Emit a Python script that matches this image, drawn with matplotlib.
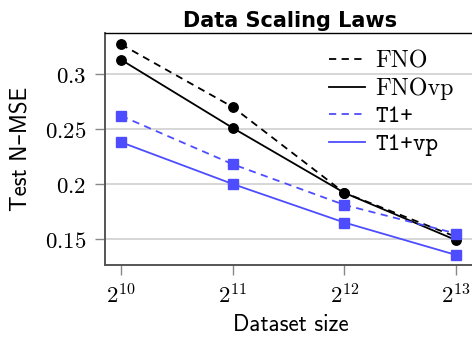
import os
import matplotlib
matplotlib.use("Agg")
import matplotlib.pyplot as plt
from matplotlib import font_manager as fm

plt.rcParams['mathtext.fontset'] = 'cm'
ttf = os.path.join(matplotlib.get_data_path(), 'fonts', 'ttf')
for f in ['cmr10.ttf', 'cmtt10.ttf', 'cmss10.ttf']:
    fm.fontManager.addfont(os.path.join(ttf, f))

dataset_sizes = [2**10, 2**11, 2**12, 2**13]
xtick_labels = [r'$2^{10}$', r'$2^{11}$', r'$2^{12}$', r'$2^{13}$']
fno = [0.327, 0.270, 0.192, 0.152]
fno_vp = [0.313, 0.251, 0.192, 0.149]
t1p = [0.262, 0.218, 0.181, 0.155]
t1p_vp = [0.238, 0.200, 0.165, 0.1355]
yticks = [0.15, 0.2, 0.25, 0.3]
ytick_labels = [r'$0.15$', r'$0.2$', r'$0.25$', r'$0.3$']
labels = ['FNO', 'FNOvp', 'T1+', 'T1+vp']
label_fonts = ['cmr10', 'cmr10', 'cmtt10', 'cmtt10']

blue = '#4d4dff'
dash = (0, (4, 3))

fig = plt.figure(figsize=(4.72, 3.39), dpi=100)
L, R, B, T = 105, 476, 265, 33
ax = fig.add_axes([L/472, 1 - B/339, (R-L)/472, (B-T)/339])

lw = 1.3
ax.plot(dataset_sizes, fno, ls=dash, color='black', lw=lw, marker='o', ms=6.8, label=labels[0], zorder=3)
ax.plot(dataset_sizes, fno_vp, ls='-', color='black', lw=lw, marker='o', ms=6.8, label=labels[1], zorder=3)
ax.plot(dataset_sizes, t1p, ls=dash, color=blue, lw=lw, marker='s', ms=6.8, label=labels[2], zorder=3)
ax.plot(dataset_sizes, t1p_vp, ls='-', color=blue, lw=lw, marker='s', ms=6.8, label=labels[3], zorder=3)

ax.set_xscale('log', base=2)
x0 = 10 - 16/111.67
x1 = 13 + (R-456)/111.67
ax.set_xlim(2**x0, 2**x1)
ax.set_ylim(0.15 - 26/1100, 0.3 + 41/1100)
ax.set_xticks(dataset_sizes)
ax.set_xticklabels(xtick_labels)
ax.minorticks_off()
ax.set_yticks(yticks)
ax.set_yticklabels(ytick_labels)
ax.tick_params(axis='both', color='#888888', length=7, width=1, direction='out')
ax.tick_params(axis='x', labelsize=16.5, pad=6.5)
ax.tick_params(axis='y', labelsize=16.5, pad=6.5)
ax.grid(axis='y', color='#d0d0d0', lw=1.2)
ax.set_axisbelow(True)
for s in ['left', 'bottom']:
    ax.spines[s].set_color('#555555')
    ax.spines[s].set_linewidth(1.4)
ax.spines['top'].set_color('black')
ax.spines['top'].set_linewidth(1.0)
ax.spines['right'].set_visible(False)

ax.set_title('Data Scaling Laws', fontsize=15, fontweight='bold', family='DejaVu Sans', pad=4)
ax.set_xlabel('Dataset size', fontsize=16.5, family='cmss10', labelpad=4)
ax.set_ylabel('Test N–MSE', fontsize=16.5, family=['cmss10', 'DejaVu Sans'], labelpad=9)

leg = ax.legend(loc='upper left', bbox_to_anchor=((329-L)/(R-L), (B-50)/(B-T)), frameon=False,
                fontsize=17.3, handlelength=1.5, handletextpad=0.42, labelspacing=0.22,
                borderaxespad=0, borderpad=0)
for h in leg.legend_handles:
    h.set_marker('')
for t, fam in zip(leg.get_texts(), label_fonts):
    t.set_family(fam)

fig.savefig('out.png', dpi=100)
